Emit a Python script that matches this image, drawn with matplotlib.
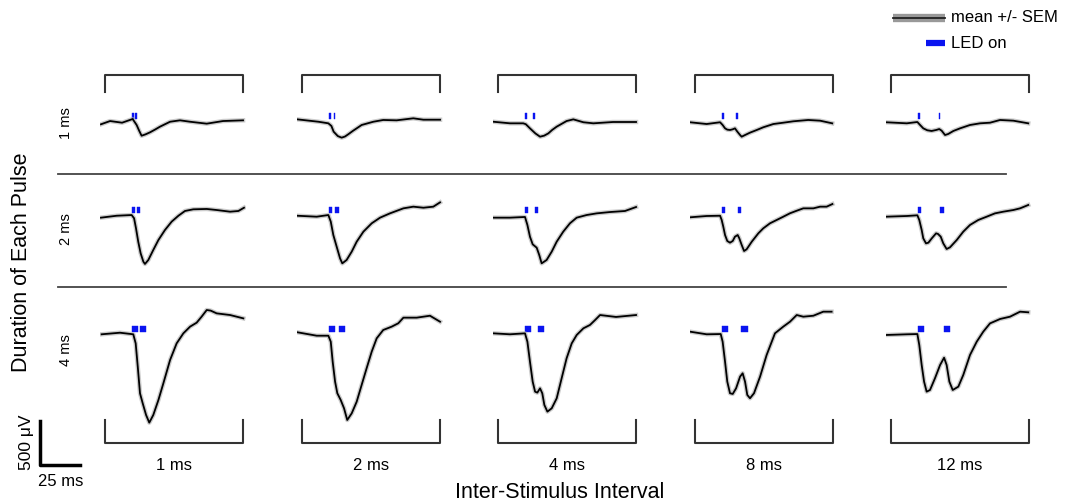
import matplotlib
matplotlib.use('Agg')
import matplotlib.pyplot as plt

plt.rcParams['font.family'] = ['Liberation Sans', 'DejaVu Sans']

# stimulus conditions
pulse_durations = [1, 2, 4]            # ms, one per row
isis = [1, 2, 4, 8, 12]                # ms, one per column
row_labels = ['1 ms', '2 ms', '4 ms']
col_labels = ['1 ms', '2 ms', '4 ms', '8 ms', '12 ms']
stim_onset = 20                        # ms after start of trace

# mean traces: time (ms), amplitude (uV), one list per ISI
t_d1 = [
    [0.6, 6.3, 13.8, 20.4, 22.9, 24.5, 26.0, 28.5, 31.3, 34.5, 37.5, 43.8, 50.0, 56.3, 66.7, 76.9, 89.4],
    [0.2, 13.4, 19.6, 21.5, 22.9, 25.5, 27.9, 30.0, 32.0, 35.0, 37.3, 40.4, 47.7, 53.9, 62.3, 72.7, 79.0, 89.4],
    [0.2, 10.6, 18.9, 20.5, 23.1, 26.5, 29.4, 32.0, 34.6, 37.0, 39.8, 46.0, 50.2, 56.5, 62.7, 75.0, 89.4],
    [0, 10.4, 18.8, 20.4, 21.9, 23.3, 25.0, 26.7, 28.1, 29.6, 31.3, 32.3, 34.4, 37.5, 41.7, 45.8,
     52.1, 58.3, 64.6, 73.9, 81.3, 88.9],
    [0, 13.0, 19.6, 21.3, 23.3, 25.8, 28.5, 31.3, 33.3, 34.8, 36.9, 38.9, 42.1, 46.3, 52.5, 58.8,
     65.0, 71.3, 79.6, 88.9],
]
v_d1 = [
    [-26, 11, -8, 34, -34, -100, -156, -140, -117, -85, -53, 3, 19, 3, -19, 11, 19],
    [30, 3, -15, -45, -110, -160, -178, -165, -140, -100, -72, -34, 3, 23, 19, 42, 26, 26],
    [3, -15, -15, -25, -72, -130, -167, -155, -129, -90, -53, 11, 30, -3, -15, 0, 0],
    [-3, -23, -3, -34, -72, -87, -91, -83, -72, -110, -148, -167, -148, -121, -91, -60,
     -23, -8, 8, 23, 15, -15],
    [-3, -15, 0, -34, -72, -94, -102, -91, -80, -99, -148, -136, -102, -72, -34, -15,
     -8, 23, 15, -15],
]
t_d2 = [
    [0.6, 10.4, 19.8, 21.3, 22.5, 23.9, 25.4, 27.1, 28.1, 30.2, 33.3, 36.5, 40.6, 44.8, 49.0, 53.1,
     58.3, 66.7, 72.9, 81.3, 86.5, 90.0],
    [0.2, 12.3, 19.6, 21.1, 22.7, 24.8, 26.9, 28.3, 31.0, 34.2, 37.3, 41.5, 46.7, 51.9, 58.1, 66.5,
     72.7, 79.0, 85.2, 89.4],
    [0.2, 10.6, 20.0, 21.5, 23.1, 24.8, 27.3, 28.9, 30.4, 33.5, 36.7, 39.8, 43.9, 48.1, 52.3, 58.5,
     64.8, 73.1, 82.5, 89.4],
    [0, 10.4, 18.8, 19.8, 20.8, 21.9, 23.3, 25.0, 26.7, 28.1, 29.8, 30.8, 32.3, 33.8, 35.4, 38.6,
     42.7, 45.8, 50.0, 54.2, 58.3, 62.5, 66.7, 70.8, 77.1, 81.3, 85.4, 89.0],
    [0, 13.0, 19.6, 20.8, 22.3, 23.3, 25.0, 26.5, 28.6, 31.3, 32.5, 34.2, 35.8, 37.9, 40.0, 44.2,
     48.3, 52.5, 57.7, 62.9, 68.1, 73.3, 79.6, 83.8, 88.9],
]
v_d2 = [
    [-19, 3, 11, -26, -140, -292, -424, -519, -545, -500, -386, -273, -159, -64, 3, 57,
     76, 80, 68, 49, 57, 94],
    [3, -8, 11, -64, -216, -349, -481, -538, -500, -405, -292, -178, -83, -19, 30, 87,
     106, 94, 106, 155],
    [-19, -19, -11, -102, -235, -322, -360, -443, -538, -500, -405, -292, -178, -83, -19, 11,
     30, 45, 57, 102],
    [-15, 0, 3, -45, -121, -216, -284, -303, -284, -235, -216, -253, -329, -398, -378, -292,
     -197, -140, -83, -45, -8, 31, 60, 87, 87, 106, 106, 136],
    [-8, 0, 8, -45, -159, -254, -311, -303, -254, -197, -204, -235, -311, -375, -356, -273,
     -178, -102, -45, -8, 30, 49, 68, 87, 125],
]
t_d4 = [
    [1.0, 12.5, 20.8, 22.3, 23.6, 25.0, 26.7, 28.8, 30.8, 33.3, 36.5, 39.6, 43.8, 47.9, 52.1, 56.3,
     60.4, 63.5, 66.7, 69.2, 72.9, 81.3, 89.6],
    [0.2, 12.3, 19.6, 21.1, 22.3, 23.8, 25.2, 27.3, 29.4, 31.4, 34.2, 37.3, 40.4, 43.5, 46.7, 49.8,
     53.9, 59.2, 63.3, 66.5, 74.8, 83.1, 89.4],
    [0.2, 10.6, 20.0, 21.5, 23.1, 24.8, 26.3, 27.7, 29.4, 30.8, 32.1, 34.0, 36.7, 39.8, 42.9, 46.0,
     49.2, 52.3, 56.5, 60.6, 63.8, 66.9, 76.9, 89.4],
    [0, 10.4, 19.2, 20.4, 21.9, 23.3, 25.0, 26.7, 28.8, 31.3, 32.9, 34.4, 35.8, 37.5, 40.0, 43.8,
     47.9, 53.1, 58.3, 62.5, 66.7, 70.8, 77.1, 83.3, 88.5],
    [0, 13.0, 19.6, 20.8, 22.3, 23.8, 25.4, 27.5, 30.6, 33.8, 36.3, 37.9, 39.6, 41.7, 45.2, 48.3,
     52.5, 56.7, 60.8, 65.0, 71.3, 77.5, 83.8, 88.9],
]
v_d4 = [
    [8, 26, 8, -95, -360, -663, -777, -909, -996, -909, -739, -549, -284, -95, 19, 95,
     140, 208, 284, 277, 246, 227, 189],
    [31, -8, -8, -76, -303, -530, -662, -738, -833, -966, -890, -758, -568, -379, -189, -38,
     57, 95, 133, 197, 197, 219, 151],
    [19, 8, 19, -76, -303, -530, -644, -655, -606, -663, -795, -871, -833, -720, -492, -265,
     -95, 0, 76, 114, 170, 227, 205, 227],
    [38, 8, 11, -76, -303, -530, -662, -670, -606, -473, -435, -530, -681, -719, -662, -473,
     -227, 19, 95, 151, 227, 208, 219, 265, 265],
    [0, 8, 11, -114, -341, -530, -644, -625, -492, -341, -258, -341, -530, -625, -587, -454,
     -227, -76, 38, 132, 182, 208, 265, 258],
]
trace_t = [t_d1, t_d2, t_d4]
trace_v = [v_d1, v_d2, v_d4]

# layout (pixels) and scale
W, H = 1071, 504
PX_MS = 1.6
PX_UV = 0.088
col_x0 = [100, 297, 493, 690, 886]
row_base = [122, 216, 335]
panel_w = 146
uv_lo, uv_hi = -1100, 450
BLUE = '#0a14f0'

fig = plt.figure(figsize=(W / 100, H / 100), dpi=100)

# overlay axes in pixel coordinates for the decorations
ov = fig.add_axes([0, 0, 1, 1])
ov.set_xlim(0, W)
ov.set_ylim(H, 0)
ov.axis('off')

for c in range(len(isis)):
    x0 = col_x0[c]
    xa, xb = x0 + 4.5, x0 + 143
    # brackets above row 1 and below row 3
    ov.plot([xa, xa, xb, xb], [92, 75, 75, 92], color='#333333', lw=1.5)
    ov.plot([xa, xa, xb, xb], [420, 443, 443, 420], color='#333333', lw=1.5)
    ov.text((xa + xb) / 2, 465, col_labels[c], ha='center', va='center', fontsize=12)

for ysep in [174, 287]:
    ov.plot([58, 1006], [ysep, ysep], color='#444444', lw=1.3)

for r in range(len(pulse_durations)):
    yl = [123, 229, 350][r]
    ov.text(66, yl, row_labels[r], rotation=90, ha='center', va='center', fontsize=10.5)

ov.text(22, 262, 'Duration of Each Pulse', rotation=90, ha='center', va='center', fontsize=15.5)
ov.text(560, 492, 'Inter-Stimulus Interval', ha='center', va='center', fontsize=15.5)

# legend
ov.plot([893, 945], [18, 18], color='#999999', lw=6, solid_capstyle='butt')
ov.plot([893, 945], [18, 18], color='#222222', lw=1.3)
ov.text(951, 18, 'mean +/- SEM', ha='left', va='center', fontsize=12)
ov.plot([926, 945], [43, 43], color=BLUE, lw=4.5, solid_capstyle='butt')
ov.text(951, 43, 'LED on', ha='left', va='center', fontsize=12)

# panels
for r, dur in enumerate(pulse_durations):
    base = row_base[r]
    for c, isi in enumerate(isis):
        x0 = col_x0[c]
        bottom_px = base - uv_lo * PX_UV
        height_px = (uv_hi - uv_lo) * PX_UV
        ax = fig.add_axes([x0 / W, 1 - bottom_px / H, panel_w / W, height_px / H])
        ax.patch.set_alpha(0)
        ax.set_xlim(0, panel_w / PX_MS)
        ax.set_ylim(uv_lo, uv_hi)
        ax.axis('off')
        t = trace_t[r][c]
        v = trace_v[r][c]
        ax.plot(t, v, color='#aaaaaa', lw=3.2, alpha=0.6, solid_joinstyle='round')
        ax.plot(t, v, color='black', lw=1.3, solid_joinstyle='round')
        onsets = [stim_onset, stim_onset + dur + isi]
        ax.broken_barh([(o, dur) for o in onsets], (30, 70), facecolor=BLUE, edgecolor=BLUE, lw=0.3)

# scale bar: 25 ms x 500 uV
sb = fig.add_axes([40 / W, 1 - 465 / H, 25 * PX_MS / W, 500 * PX_UV / H])
sb.set_xlim(0, 25)
sb.set_ylim(0, 500)
sb.axis('off')
sb.plot([0, 0, 25], [500, 0, 0], color='black', lw=2.5, clip_on=False)
ov.text(27, 442, '500 \u03bcV', rotation=90, ha='center', va='center', fontsize=12.5)
ov.text(61, 482, '25 ms', ha='center', va='center', fontsize=12)

fig.savefig('out.png', dpi=100)
